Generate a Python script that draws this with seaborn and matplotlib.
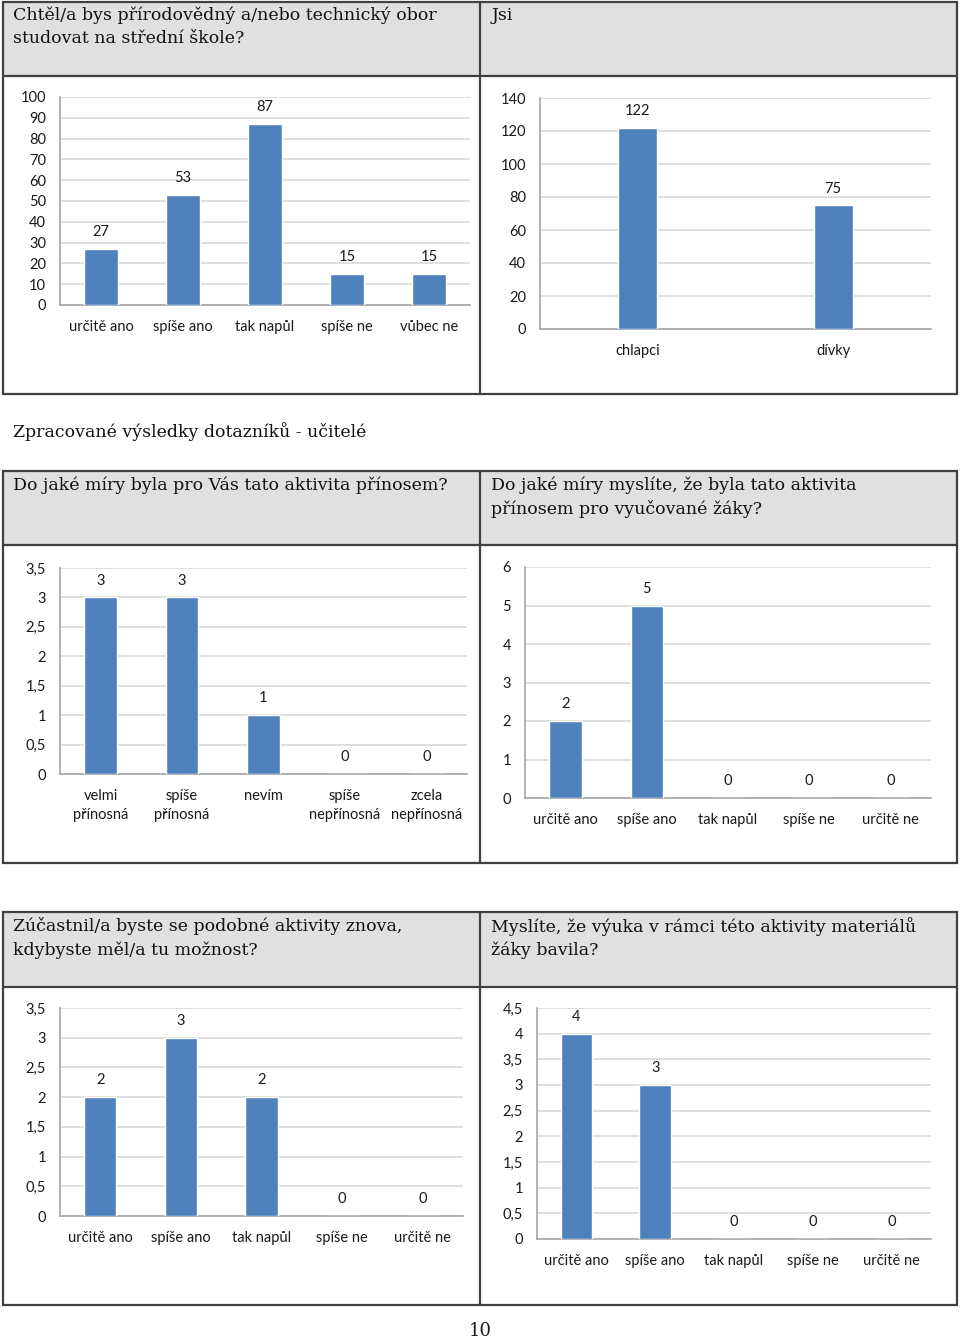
import numpy as np
import matplotlib
matplotlib.use("Agg")
import matplotlib.pyplot as plt
import seaborn as sns
from matplotlib.patches import Rectangle
from matplotlib.lines import Line2D
from matplotlib.ticker import FuncFormatter

# data read from the page
q1_title = "Chtěl/a bys přírodovědný a/nebo technický obor\nstudovat na střední škole?"
q1_cats = ["určitě ano", "spíše ano", "tak napůl", "spíše ne", "vůbec ne"]
q1_vals = [27, 53, 87, 15, 15]

q2_title = "Jsi"
q2_cats = ["chlapci", "dívky"]
q2_vals = [122, 75]

section_title = "Zpracované výsledky dotazníků - učitelé"

q3_title = "Do jaké míry byla pro Vás tato aktivita přínosem?"
q3_cats = ["velmi\npřínosná", "spíše\npřínosná", "nevím", "spíše\nnepřínosná", "zcela\nnepřínosná"]
q3_vals = [3, 3, 1, 0, 0]

q4_title = "Do jaké míry myslíte, že byla tato aktivita\npřínosem pro vyučované žáky?"
q4_cats = ["určitě ano", "spíše ano", "tak napůl", "spíše ne", "určitě ne"]
q4_vals = [2, 5, 0, 0, 0]

q5_title = "Zúčastnil/a byste se podobné aktivity znova,\nkdybyste měl/a tu možnost?"
q5_cats = ["určitě ano", "spíše ano", "tak napůl", "spíše ne", "určitě ne"]
q5_vals = [2, 3, 2, 0, 0]

q6_title = "Myslíte, že výuka v rámci této aktivity materiálů\nžáky bavila?"
q6_cats = ["určitě ano", "spíše ano", "tak napůl", "spíše ne", "určitě ne"]
q6_vals = [4, 3, 0, 0, 0]

page_no = "10"

# style
sns.set_style("white")
plt.rcParams["font.family"] = ["Lato", "DejaVu Sans"]
plt.rcParams["text.color"] = "#1a1a1a"
plt.rcParams["xtick.color"] = "#1a1a1a"
plt.rcParams["ytick.color"] = "#1a1a1a"
SERIF = ["DejaVu Serif"]
BLUE = "#4F81BD"
GRID = "#D9D9D9"
AXIS = "#A6A6A6"
BORDER = "#404040"
HEAD = "#E0E0E0"

W, H = 960, 1340
fig = plt.figure(figsize=(W / 100, H / 100), dpi=100)


def fx(x):
    return x / W


def fy(y):
    return 1 - y / H


def table(top, head_bottom, bottom):
    # grey header strip + outer frame + middle divider
    fig.add_artist(Rectangle((fx(3), fy(head_bottom)), fx(954), (head_bottom - top) / H,
                             transform=fig.transFigure, facecolor=HEAD, edgecolor="none"))
    fig.add_artist(Rectangle((fx(3), fy(bottom)), fx(954), (bottom - top) / H,
                             transform=fig.transFigure, facecolor="none", edgecolor=BORDER, lw=1.6))
    fig.add_artist(Line2D([fx(3), fx(957)], [fy(head_bottom)] * 2, transform=fig.transFigure,
                          color=BORDER, lw=1.6))
    fig.add_artist(Line2D([fx(480)] * 2, [fy(top), fy(bottom)], transform=fig.transFigure,
                          color=BORDER, lw=1.6))


def header(x, y, text):
    fig.text(fx(x), fy(y), text, family=SERIF, fontsize=12.5, ha="left", va="top",
             linespacing=1.45, color="#111111")


def panel(x0, x1, ytop, ybot, ymax, step, cats, vals, width=0.4):
    ax = fig.add_axes([fx(x0), fy(ybot), (x1 - x0) / W, (ybot - ytop) / H])
    sns.barplot(x=cats, y=vals, color=BLUE, saturation=1, width=width, ax=ax, zorder=3)
    ax.set_xlim(-0.5, len(cats) - 0.5)
    ax.set_ylim(0, ymax)
    ax.set_yticks(np.arange(0, ymax + step / 2, step))
    ax.yaxis.set_major_formatter(FuncFormatter(lambda v, p: f"{v:g}".replace(".", ",")))
    ax.yaxis.grid(True, color=GRID, lw=1.2)
    ax.set_axisbelow(True)
    for s in ["top", "right"]:
        ax.spines[s].set_visible(False)
    for s in ["left", "bottom"]:
        ax.spines[s].set_color(AXIS)
        ax.spines[s].set_linewidth(1.2)
    ax.tick_params(axis="y", length=0, pad=10, labelsize=10.5)
    ax.tick_params(axis="x", length=0, pad=11, labelsize=10.5)
    for lab in ax.get_xticklabels():
        lab.set_linespacing(1.45)
    ax.set_xlabel("")
    ax.set_ylabel("")
    ax.bar_label(ax.containers[0], labels=[f"{v:g}" for v in vals], padding=7, fontsize=10.5)
    return ax


# first table (pupils)
table(2, 76, 394)
header(13, 7, q1_title)
header(491, 7, q2_title)
panel(60, 470, 97, 305, 100, 10, q1_cats, q1_vals, width=0.41)
panel(540, 931, 98, 329, 140, 20, q2_cats, q2_vals, width=0.2)

fig.text(fx(13), fy(432), section_title, family=SERIF, fontsize=12.5, ha="left", va="center",
         color="#111111")

# second table (teachers)
table(471, 545, 863)
header(13, 476, q3_title)
header(491, 476, q4_title)
panel(60, 467, 568, 774, 3.5, 0.5, q3_cats, q3_vals)
panel(525, 931, 567, 798, 6, 1, q4_cats, q4_vals)

# third table
table(912, 987, 1305)
header(13, 917, q5_title)
header(491, 917, q6_title)
panel(60, 463, 1008, 1216, 3.5, 0.5, q5_cats, q5_vals)
panel(537, 931, 1008, 1239, 4.5, 0.5, q6_cats, q6_vals)

fig.text(0.5, fy(1331), page_no, family=SERIF, fontsize=13, ha="center", va="center")

fig.savefig("out.png", dpi=100)
